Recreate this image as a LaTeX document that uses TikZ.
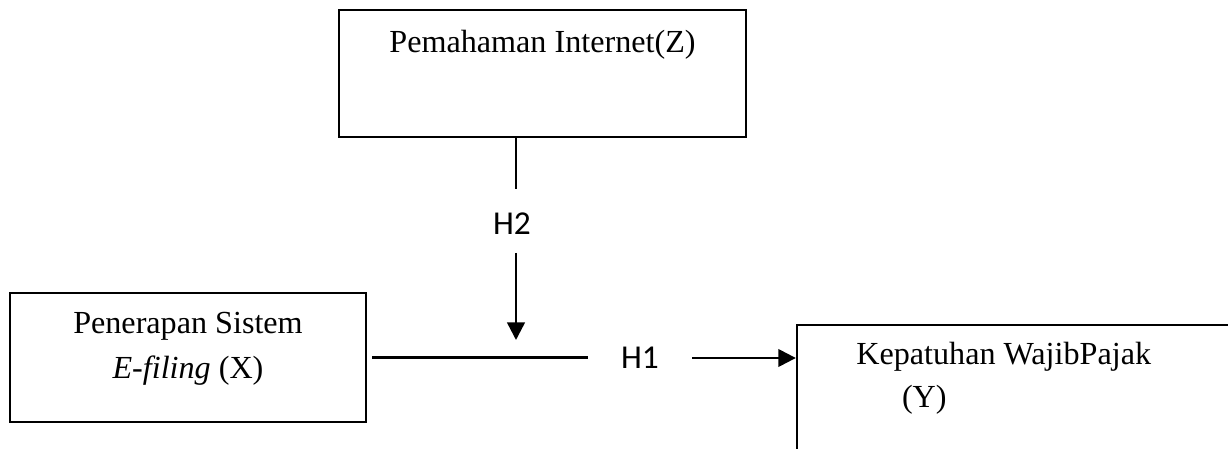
\documentclass[tikz,border=0pt]{standalone}
\usepackage{fontspec}
\setmainfont{Liberation Serif}
\newfontfamily\hfont{Carlito}
\usepackage{tikz}
\usetikzlibrary{arrows.meta, positioning}
\tikzstyle{varbox} = [rectangle, draw=black, line width=1.4pt, inner sep=0pt]
\tikzstyle{vartext} = [inner sep=0pt, font=\fontsize{18.3}{25.5}\selectfont]
\tikzstyle{hyp} = [inner sep=0pt, font=\hfont\fontsize{19}{22}\selectfont]
\tikzstyle{link} = [line width=1.4pt]
\tikzstyle{arrow} = [line width=1.4pt, -{Triangle[length=10pt,width=10pt]}]

\begin{document}
\begin{tikzpicture}[x=0.02cm, y=-0.02cm]
    \useasboundingbox (0,0) rectangle (1228,449);
    \clip (0,0) rectangle (1228,449);

    \node[varbox, minimum width=8.14cm, minimum height=2.54cm] (zbox) at (542.5,73.5) {};
    \node[varbox, minimum width=7.12cm, minimum height=2.58cm] (xbox) at (188,357.5) {};
    \node[varbox, minimum width=10cm, minimum height=4cm] (ybox) at (1047,425) {};

    \node[vartext, anchor=base] (ztext) at (542.5,53) {Pemahaman Internet(Z)};
    \node[vartext, anchor=north, align=center] (xtext) at (188,312) {Penerapan Sistem\\\textit{E-filing} (X)};
    \node[vartext, anchor=north west, align=left] (ytext) at (856,342) {Kepatuhan WajibPajak\\[-1pt]\hspace*{26pt}(Y)};

    \node[hyp] (h2) at (512,224) {H2};
    \node[hyp, minimum width=2.08cm] (h1) at (640,358) {H1};

    \coordinate (zstub) at (516,189);
    \coordinate (mtop) at (516,253);
    \coordinate (mtip) at (516,340);

    \draw[link] (zbox.south -| zstub) -- (zstub);
    \draw[arrow] (mtop) -- (mtip);
    \draw[link, shorten <=3pt] (xbox.east) -- (xbox.east -| h1.west);
    \draw[arrow] (h1.east) -- (h1.east -| ybox.west);
\end{tikzpicture}
\end{document}
